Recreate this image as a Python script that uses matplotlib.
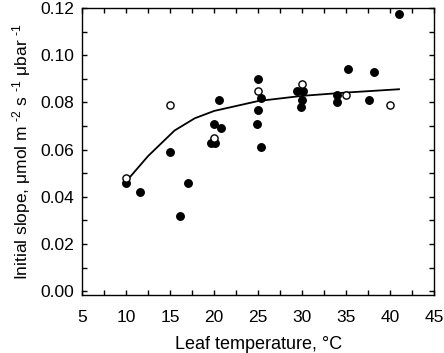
import matplotlib.pyplot as plt
import numpy as np
from matplotlib.ticker import MultipleLocator

plt.rcParams['font.family'] = ['Liberation Sans', 'DejaVu Sans']
plt.rcParams['mathtext.fontset'] = 'custom'
plt.rcParams['mathtext.rm'] = 'Liberation Sans'
plt.rcParams['mathtext.it'] = 'Liberation Sans'

# filled symbols
temp_filled = [10, 11.6, 15, 16.1, 17, 19.6, 20.1, 20, 20.5, 20.8,
               25, 25.3, 25, 24.9, 25.3,
               29.4, 30.1, 30, 29.9, 34, 34, 35.2, 38.2, 37.6, 41]
slope_filled = [0.046, 0.042, 0.059, 0.032, 0.046, 0.063, 0.063, 0.071, 0.081, 0.069,
                0.090, 0.082, 0.077, 0.071, 0.061,
                0.085, 0.085, 0.081, 0.078, 0.083, 0.080, 0.094, 0.093, 0.081, 0.1175]

# open symbols
temp_open = [10, 15, 20, 25, 30, 35, 40]
slope_open = [0.048, 0.079, 0.065, 0.085, 0.0877, 0.083, 0.079]

# model curve
temp_fit = [10, 12.5, 15.5, 17.8, 20, 25, 30, 35, 41]
slope_fit = [0.0465, 0.0573, 0.0681, 0.0733, 0.0764, 0.0806, 0.0828, 0.0842, 0.0856]

fig = plt.figure(figsize=(4.44, 3.53), dpi=100)
ax = fig.add_axes([0.185, 0.164, 0.793, 0.813])

ax.plot(temp_fit, slope_fit, color='black', lw=1.3, zorder=2)
ax.plot(temp_filled, slope_filled, 'o', color='black', ms=5.4, zorder=3)
ax.plot(temp_open, slope_open, 'o', mfc='white', mec='black', mew=1.0, ms=5.2, zorder=4)

ax.set_xlim(5, 45)
ax.set_ylim(-0.0017, 0.12)
ax.xaxis.set_major_locator(MultipleLocator(5))
ax.xaxis.set_minor_locator(MultipleLocator(2.5))
ax.yaxis.set_major_locator(MultipleLocator(0.02))
ax.yaxis.set_minor_locator(MultipleLocator(0.01))
ax.yaxis.set_major_formatter(plt.FormatStrFormatter('%.2f'))

ax.tick_params(which='both', direction='in', top=True, right=True,
               length=3.5, width=1.0, labelsize=12.5)
ax.tick_params(axis='x', pad=11)
ax.tick_params(axis='y', pad=6)
for s in ax.spines.values():
    s.set_linewidth(1.0)

ax.set_xlabel('Leaf temperature, °C', fontsize=13, labelpad=8)
ax.set_ylabel('Initial slope, μmol m $^{\u20102}$ s $^{\u20101}$ μbar $^{\u20101}$',
              fontsize=12.5, labelpad=5)

fig.savefig('out.png', dpi=100)
